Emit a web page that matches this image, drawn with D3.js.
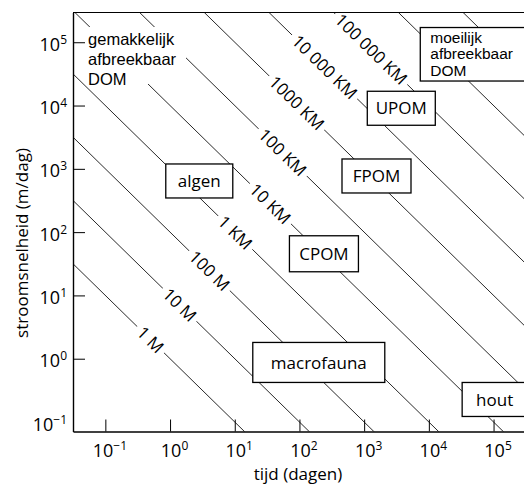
<!DOCTYPE html>
<html>
<head>
<meta charset="utf-8">
<script src="https://cdn.jsdelivr.net/npm/d3@7"></script>
<style>
body { margin: 0; background: #fff; overflow: hidden; }
svg { display: block; }
text { font-family: "Open Sans", sans-serif; fill: #000; }
</style>
</head>
<body>
<script>
// decades on both axes (exponents of 10)
var timeTicks = [-1, 0, 1, 2, 3, 4, 5]
var speedTicks = [-1, 0, 1, 2, 3, 4, 5]

// lines of equal distance: stroomsnelheid x tijd = afstand (m)
var distances = [1, 10, 100, 1e3, 1e4, 1e5, 1e6, 1e7, 1e8, 1e9, 1e10]
var distanceLabels = ["1 M", "10 M", "100 M", "1 KM", "10 KM", "100 KM", "1000 KM", "10 000 KM", "100 000 KM", "", ""]
// time (dagen) where the label sits on its line
var labelTimes = [0.5, 1.41, 4.07, 10.2, 35.5, 55, 91, 245, 1288]

// boxed categories, centre as (dagen, m/dag)
var categories = ["algen", "FPOM", "UPOM", "CPOM", "macrofauna", "hout"]
var catTime = [2.83, 1552, 3750, 239, 199, 104000]
var catSpeed = [643, 771, 9057, 45.5, 0.873, 0.227]

// DOM notes, top-left of text as (dagen, m/dag)
var notes = [["gemakkelijk", "afbreekbaar", "DOM"], ["moeilijk", "afbreekbaar", "DOM"]]
var noteTime = [0.054, 10520]
var noteSpeed = [90500, 99000]

var W = 524, H = 487
var pL = 73, pR = 524, pT = 12.5, pB = 431.5

var svg = d3.select("body").append("svg")
	.attr("width", W)
	.attr("height", H)

var x = d3.scaleLog()
	.domain([Math.pow(10, -1.5), Math.pow(10, -1.5 + (pR - pL) / 64.7)])
	.range([pL, pR])
var y = d3.scaleLog()
	.domain([Math.pow(10, -1.15), Math.pow(10, 5.47)])
	.range([pB, pT])

svg.append("clipPath").attr("id", "plot")
	.append("rect")
	.attr("x", pL).attr("y", pT)
	.attr("width", pR - pL).attr("height", pB - pT)

var angle = Math.atan2(y(1) - y(10), x(10) - x(1)) * 180 / Math.PI

// diagonal distance lines
var line = d3.line()
	.x(function(d) { return x(d[0]) })
	.y(function(d) { return y(d[1]) })

svg.append("g")
	.attr("clip-path", "url(#plot)")
	.selectAll("path")
	.data(distances)
	.enter()
	.append("path")
	.attr("d", function(d) {
		var t0 = x.domain()[0], t1 = x.domain()[1]
		return line([[t0, d / t0], [t1, d / t1]])
	})
	.attr("fill", "none")
	.attr("stroke", "#111")
	.attr("stroke-width", 0.9)

// labels on the lines
var lab = svg.append("g").selectAll("g")
	.data(distanceLabels.slice(0, labelTimes.length))
	.enter()
	.append("g")
	.attr("transform", function(d, i) {
		var t = labelTimes[i]
		return "translate(" + x(t) + "," + y(distances[i] / t) + ") rotate(" + angle + ")"
	})

lab.append("text")
	.attr("text-anchor", "middle")
	.attr("dy", "0.36em")
	.attr("font-size", 17)
	.style("font-weight", 500)
	.text(function(d) { return d })

lab.each(function() {
	var g = d3.select(this)
	var b = g.select("text").node().getBBox()
	g.insert("rect", "text")
		.attr("x", b.x - 4).attr("y", b.y + 1)
		.attr("width", b.width + 8).attr("height", b.height - 2)
		.attr("fill", "#fff")
})

// DOM notes
notes.forEach(function(lines, i) {
	var x0 = x(noteTime[i]), y0 = y(noteSpeed[i])
	var fs = i == 0 ? 16.5 : 15.5
	var lh = i == 0 ? 20 : 16.7
	var g = svg.append("g")
	if (i == 0) {
		g.append("rect")
			.attr("x", x0 - 2).attr("y", y0 - 18)
			.attr("width", 100).attr("height", 57)
			.attr("fill", "#fff")
	} else {
		g.append("rect")
			.attr("x", x0 - 10).attr("y", y0 - 15)
			.attr("width", 130).attr("height", 53.5)
			.attr("fill", "#fff")
			.attr("stroke", "#000")
			.attr("stroke-width", 1.3)
	}
	g.selectAll("text")
		.data(lines)
		.enter()
		.append("text")
		.attr("x", x0)
		.attr("y", function(d, j) { return y0 + j * lh })
		.attr("font-size", fs)
		.style("font-family", "'Liberation Sans', Arial, sans-serif")
		.text(function(d) { return d })
})

// boxed categories
var boxW = [67, 69, 68, 69, 132, 90]
var boxX = [-33.5, -34.5, -34, -34.5, -66, -32.5]
var boxH = [34, 34, 34, 36, 40, 34]
var box = svg.append("g").selectAll("g")
	.data(categories)
	.enter()
	.append("g")
	.attr("transform", function(d, i) {
		return "translate(" + x(catTime[i]) + "," + y(catSpeed[i]) + ")"
	})

box.append("rect")
	.attr("x", function(d, i) { return boxX[i] })
	.attr("y", function(d, i) { return -boxH[i] / 2 })
	.attr("width", function(d, i) { return boxW[i] })
	.attr("height", function(d, i) { return boxH[i] })
	.attr("fill", "#fff")
	.attr("stroke", "#000")
	.attr("stroke-width", 1.3)

box.append("text")
	.attr("text-anchor", "middle")
	.attr("dy", "0.36em")
	.attr("font-size", 17)
	.style("font-weight", 500)
	.text(function(d) { return d })

// axes
function powLabel(sel) {
	sel.each(function(d) {
		var t = d3.select(this).text("")
		var e = Math.round(Math.log10(d))
		t.append("tspan").text("10")
		t.append("tspan")
			.attr("dy", -7)
			.attr("font-size", 12)
			.text(e < 0 ? "\u2212" + (-e) : e)
	})
}

var xAxis = svg.append("g")
	.attr("transform", "translate(0," + pB + ")")
	.call(d3.axisBottom(x)
		.tickValues(timeTicks.map(function(e) { return Math.pow(10, e) }))
		.tickSize(-12)
		.tickSizeOuter(0))
xAxis.selectAll("text")
	.attr("font-size", 18)
	.attr("y", 25)
	.attr("dy", 0)
	.attr("dx", 4)
	.call(powLabel)

var yAxis = svg.append("g")
	.attr("transform", "translate(" + pL + ",0)")
	.call(d3.axisLeft(y)
		.tickValues(speedTicks.map(function(e) { return Math.pow(10, e) }))
		.tickSize(-12)
		.tickSizeOuter(0))
yAxis.selectAll("text")
	.attr("font-size", 18)
	.attr("x", -6)
	.attr("dy", 8)
	.call(powLabel)
// the lowest speed decade has no tick mark
yAxis.selectAll(".tick line").filter(function(d) { return d < 1 }).remove()

svg.selectAll(".tick text").style("font-family", "'Open Sans', sans-serif")
svg.selectAll(".domain").attr("stroke", "#000").attr("stroke-width", 1.4)
svg.selectAll(".tick line").attr("stroke", "#000").attr("stroke-width", 1)

// top frame line
svg.append("line")
	.attr("x1", pL).attr("x2", pR)
	.attr("y1", pT).attr("y2", pT)
	.attr("stroke", "#000")
	.attr("stroke-width", 1)

// axis titles
svg.append("text")
	.attr("x", 298).attr("y", 480)
	.attr("text-anchor", "middle")
	.attr("font-size", 17)
	.style("font-weight", 500)
	.text("tijd (dagen)")

svg.append("text")
	.attr("transform", "translate(28,243) rotate(-90)")
	.attr("text-anchor", "middle")
	.attr("font-size", 17)
	.style("font-weight", 500)
	.text("stroomsnelheid (m/dag)")
</script>
</body>
</html>
